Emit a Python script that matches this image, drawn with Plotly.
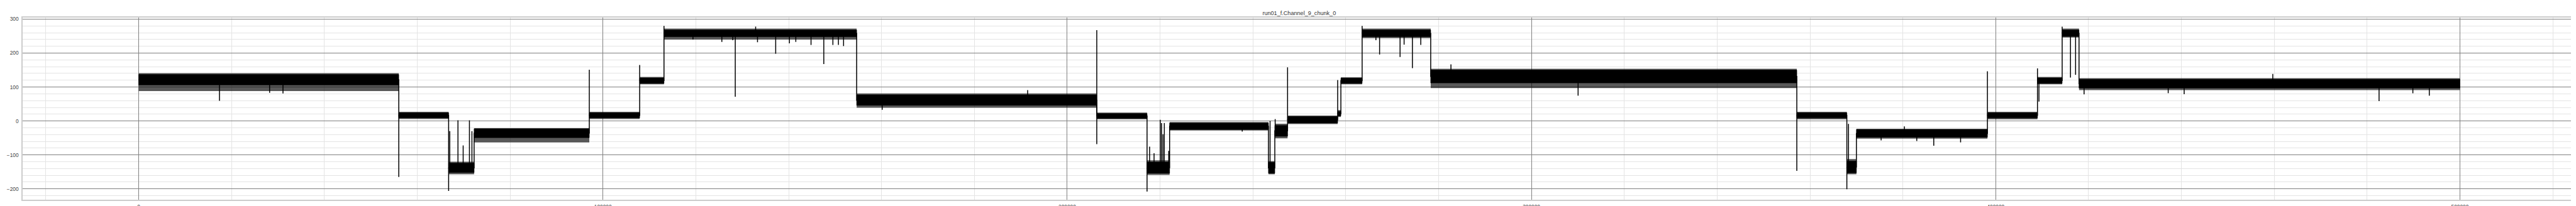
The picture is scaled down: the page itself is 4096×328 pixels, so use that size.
import numpy as np
import plotly.graph_objects as go

TITLE = "run01_f.Channel_9_chunk_0"

# segment boundaries (sample index) of the stepped signal
seg_edges = [0, 56020, 66760, 72250, 97060, 107910, 113150, 154650, 206370, 217200,
             222060, 243350, 244720, 247470, 258260, 258950, 263530, 278300, 357160,
             367940, 370000, 398220, 409000, 414320, 417950, 500000]
# noise band of each segment: outer envelope and dense core
outer_hi = [141, 27, -120, -21, 27, 130, 272, 81, 25, -116, -3, -118, -8, 16, 32, 129, 272,
            154, 27, -112, -23, 27, 130, 272, 126]
outer_lo = [88, 6, -157, -63, 6, 108, 240, 39, 5, -159, -28, -157, -51, -9, 12, 108, 244,
            97, 5, -157, -52, 5, 108, 246, 91]
core_hi = [137, 24, -124, -23, 24, 127, 268, 77, 22, -121, -6, -122, -13, 13, 28, 126, 268,
           150, 24, -118, -25, 24, 127, 268, 123]
core_lo = [106, 9, -152, -49, 9, 111, 248, 46, 8, -154, -25, -154, -45, -6, 15, 111, 248,
           112, 9, -153, -48, 9, 111, 249, 97]

# isolated spikes (sample index, tip value)
spike_x = [17400, 28200, 31080, 56020, 66760, 67000, 68770, 69890, 71240, 71780, 97060,
           107910, 113150, 119390, 125610, 127970, 128500, 132890, 133290, 137210, 140160,
           141540, 144820, 147570, 149530, 150720, 151830, 160150, 191480, 206370, 206370,
           217200, 217750, 218710, 220040, 220320, 220640, 220920, 221880, 237700, 243700,
           244800, 247470, 258260, 263530, 266500, 267290, 271700, 272570, 274360, 276160,
           282660, 310050, 357160, 367940, 368300, 375320, 380330, 383000, 386660, 392440,
           398220, 409000, 409320, 414320, 416110, 417210, 419040, 437160, 440600, 459690,
           482580, 489860, 493400]
spike_y = [59.6, 83, 81, -165, -206, -30, 2, -72, 2, -30, 151,
           165, 280, 240, 233, 238, 71.4, 278, 232, 198, 228.6,
           233, 224, 167.6, 224, 224, 220.7, 33, 91, 267.6, -68,
           -208, -75.6, -95, 3.3, -6, -39, -6, -88, -31, 0,
           5.6, 158, 120.7, 280, 238, 195.8, 188.7, 224.9, 155.9, 224,
           166.7, 74.6, -147, -201, -8.5, -57, -16, -59, -73, -63,
           146.5, 155, 57, 278, 127.7, 136, 78.4, 82, 79, 138.5,
           58.7, 81.7, 74.6]

x_ticks = [0, 100000, 200000, 300000, 400000, 500000]
y_ticks = [-200, -100, 0, 100, 200, 300]

S = 4096 / 5400  # scale factor vs reference

edges = np.array(seg_edges, dtype=float)
mid = (np.array(core_hi) + np.array(core_lo)) / 2.0


def band_polys(hi, lo):
    xs, ys = [], []
    for i in range(len(hi)):
        x0, x1 = edges[i], edges[i + 1]
        xs += [x0, x1, x1, x0, x0, None]
        ys += [hi[i], hi[i], lo[i], lo[i], hi[i], None]
    return xs, ys


fig = go.Figure()

ox, oy = band_polys(outer_hi, outer_lo)
fig.add_trace(go.Scatter(x=ox, y=oy, mode="lines", fill="toself",
                         fillcolor="rgba(0,0,0,0.65)", line=dict(width=0),
                         hoverinfo="skip", showlegend=False))
cx, cy = band_polys(core_hi, core_lo)
fig.add_trace(go.Scatter(x=cx, y=cy, mode="lines", fill="toself",
                         fillcolor="black", line=dict(color="black", width=0.6),
                         hoverinfo="skip", showlegend=False))

# stepped centre line
lx, ly = [], []
for i in range(len(mid)):
    lx += [edges[i], edges[i + 1]]
    ly += [mid[i], mid[i]]
fig.add_trace(go.Scatter(x=lx, y=ly, mode="lines", line=dict(color="black", width=1.5),
                         showlegend=False))

# spikes
sx, sy = [], []
for xv, tv in zip(spike_x, spike_y):
    k = int(np.clip(np.searchsorted(edges, xv, side="right") - 1, 0, len(mid) - 1))
    sx += [xv, xv, None]
    sy += [mid[k], tv, None]
fig.add_trace(go.Scatter(x=sx, y=sy, mode="lines", line=dict(color="black", width=1.5),
                         showlegend=False))

tick_font = dict(family="Liberation Sans Narrow, Liberation Sans, Arial", size=11 * S,
                 color="#444444")
major = "#808080"
minor = "#e4e4e4"

fig.update_layout(
    width=4096, height=328,
    margin=dict(l=37.5 * S, r=(5400 - 5389.3) * S, t=26 * S, b=(432 - 408.3) * S,
                autoexpand=False),
    paper_bgcolor="white", plot_bgcolor="white",
    title=dict(text=TITLE, x=0.5024, xanchor="center", yref="container",
               y=1 - (16.7 * S) / 328, yanchor="middle",
               font=dict(family="Liberation Sans, Arial", size=12 * S, color="#333333")),
    xaxis=dict(range=[-25000, 525000], tickvals=x_ticks,
               ticktext=[str(v) for v in x_ticks],
               showgrid=True, gridcolor=major, gridwidth=1,
               minor=dict(dtick=20000, tick0=0, showgrid=True, gridcolor=minor, gridwidth=1),
               zeroline=False, showline=True, linecolor="#cccccc", linewidth=1.5, mirror=True,
               ticks="", tickfont=tick_font, ticklabelstandoff=2),
    yaxis=dict(range=[-231.9, 304.6], tickvals=y_ticks,
               showgrid=True, gridcolor=major, gridwidth=1,
               minor=dict(dtick=20, tick0=0, showgrid=True, gridcolor=minor, gridwidth=1),
               zeroline=False, showline=True, linecolor="#cccccc", linewidth=1.5, mirror=True,
               ticks="", tickfont=tick_font, ticklabelstandoff=3),
)

fig.write_html("out.html")
